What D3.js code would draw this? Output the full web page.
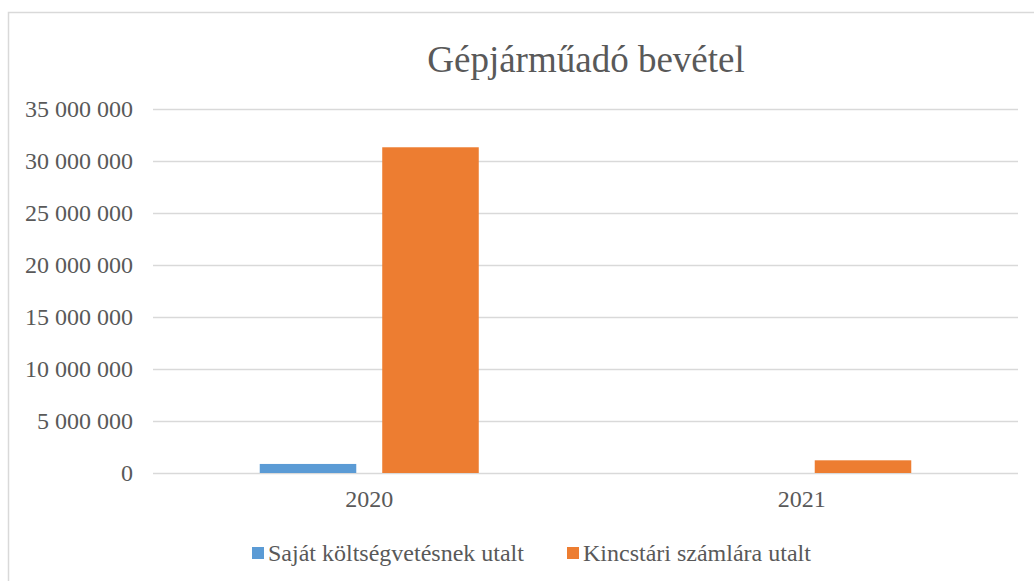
<!DOCTYPE html>
<html>
<head>
<meta charset="utf-8">
<script src="https://cdn.jsdelivr.net/npm/d3@7"></script>
<style>
  body { margin: 0; background: #fff; }
  text { font-family: "Liberation Serif", "Times New Roman", serif; fill: #595959; }
</style>
</head>
<body>
<div id="chart"></div>
<script>
const years = ["2020", "2021"];
const seriesNames = ["Saját költségvetésnek utalt", "Kincstári számlára utalt"];
const sajat = [870000, 0];
const kincstari = [31320000, 1220000];
const yTicks = [0, 5000000, 10000000, 15000000, 20000000, 25000000, 30000000, 35000000];
const colors = ["#5B9BD5", "#ED7D31"];

const width = 1034, height = 581;
const plot = { left: 153, right: 1018, top: 109, bottom: 473 };

const svg = d3.select("#chart").append("svg")
    .attr("width", width)
    .attr("height", height);

// chart frame
svg.append("rect")
    .attr("x", 8.5).attr("y", 12.5)
    .attr("width", 1040).attr("height", 600)
    .attr("fill", "none")
    .attr("stroke", "#d9d9d9")
    .attr("stroke-width", 1.5);

svg.append("text")
    .attr("x", 586).attr("y", 72)
    .attr("text-anchor", "middle")
    .style("font-size", "37px")
    .text("Gépjárműadó bevétel");

const y = d3.scaleLinear().domain([0, 35000000]).range([plot.bottom, plot.top]);
const x0 = d3.scaleBand().domain(years).range([plot.left, plot.right])
    .paddingInner(0.4936).paddingOuter(0.2468);
const x1 = d3.scaleBand().domain(seriesNames).range([0, x0.bandwidth()])
    .paddingInner(0.212);

const fmt = v => d3.format(",")(v).replace(/,/g, " ");

// gridlines + labels
const yAxis = svg.append("g")
    .attr("transform", `translate(${plot.left},0)`)
    .call(d3.axisLeft(y).tickValues(yTicks).tickSize(-(plot.right - plot.left)).tickPadding(20).tickFormat(fmt));
yAxis.select(".domain").remove();
yAxis.selectAll("line").attr("stroke", "#d9d9d9").attr("stroke-width", 1.5);
yAxis.selectAll("text").style("font-size", "24px").attr("fill", "#595959");

const xAxis = svg.append("g")
    .attr("transform", `translate(0,${plot.bottom})`)
    .call(d3.axisBottom(x0).tickSize(0).tickPadding(17));
xAxis.select(".domain").remove();
xAxis.selectAll("text").style("font-size", "24px").attr("fill", "#595959");

const rows = years.map((yr, i) => ({ year: yr, values: [sajat[i], kincstari[i]] }));

const groups = svg.selectAll(".grp")
    .data(rows)
    .enter().append("g")
    .attr("class", "grp")
    .attr("transform", d => `translate(${x0(d.year)},0)`);

groups.selectAll("rect")
    .data(d => d.values.map((v, j) => ({ name: seriesNames[j], value: v, j })))
    .enter().append("rect")
    .attr("x", d => x1(d.name))
    .attr("width", x1.bandwidth())
    .attr("y", d => y(d.value))
    .attr("height", d => plot.bottom - y(d.value))
    .attr("fill", d => colors[d.j]);

// legend
const legendX = [252, 567];
const legend = svg.selectAll(".leg")
    .data(seriesNames)
    .enter().append("g")
    .attr("class", "leg")
    .attr("transform", (d, i) => `translate(${legendX[i]},547)`);
legend.append("rect")
    .attr("width", 12).attr("height", 12)
    .attr("fill", (d, i) => colors[i]);
legend.append("text")
    .attr("x", 16).attr("y", 14)
    .style("font-size", "24px")
    .text(d => d);
</script>
</body>
</html>
